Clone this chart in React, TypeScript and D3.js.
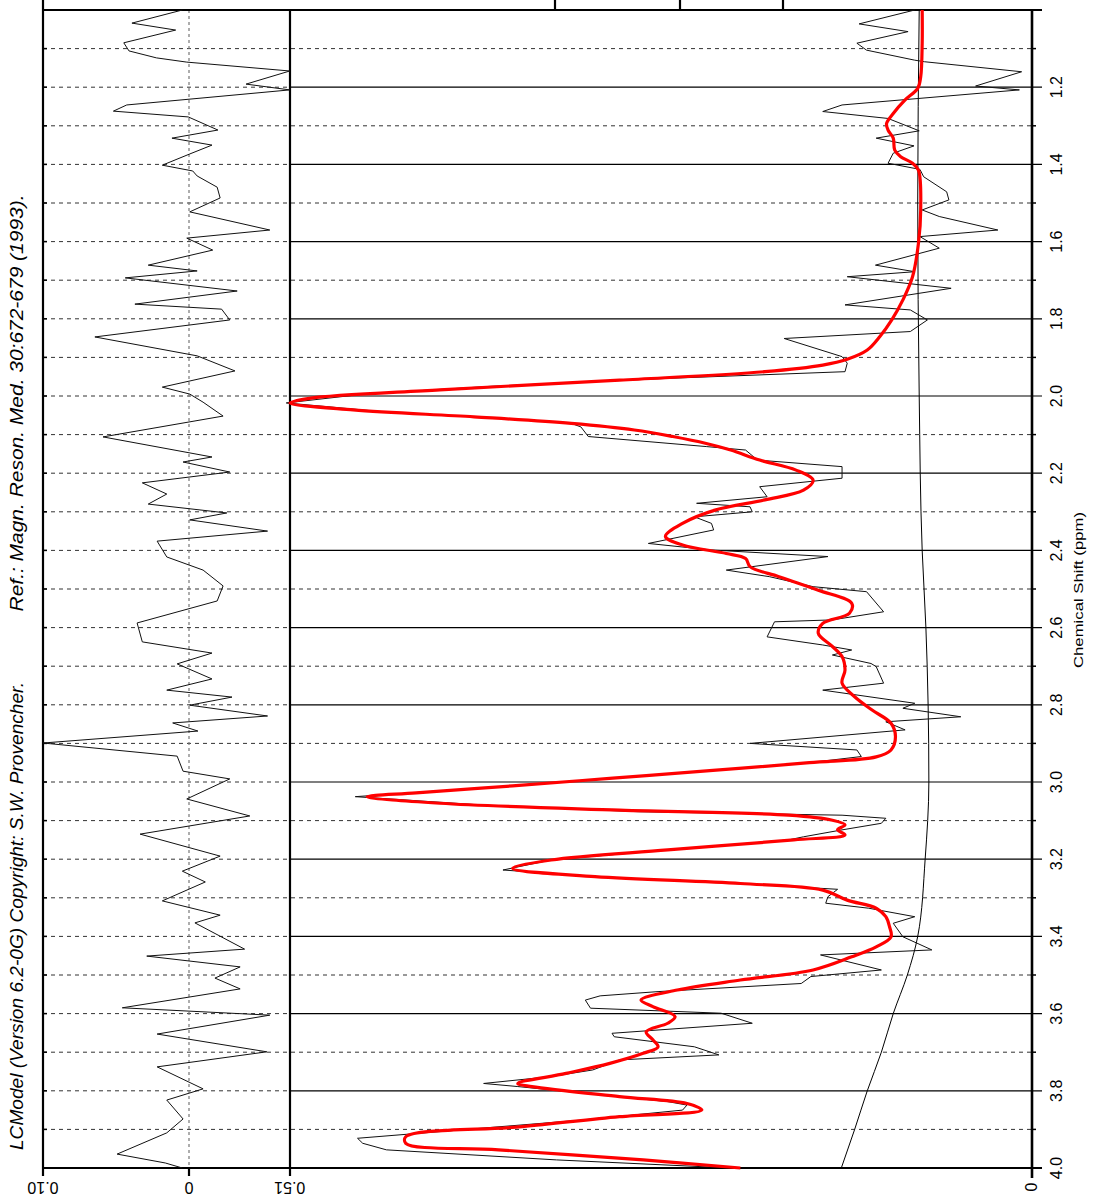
import React from "react";
import * as d3 from "d3";

const W = 1102;
const H = 1198;

// chemical shift ticks (ppm)
const majorTicks = [1.2, 1.4, 1.6, 1.8, 2.0, 2.2, 2.4, 2.6, 2.8, 3.0, 3.2, 3.4, 3.6, 3.8, 4.0];
const minorTicks = [1.1, 1.3, 1.5, 1.7, 1.9, 2.1, 2.3, 2.5, 2.7, 2.9, 3.1, 3.3, 3.5, 3.7, 3.9];
const tickLabels = ["1.2", "1.4", "1.6", "1.8", "2.0", "2.2", "2.4", "2.6", "2.8", "3.0", "3.2", "3.4", "3.6", "3.8", "4.0"];

// residual axis labels (value, label)
const residTickVals = [19.7, 0, -13.6];
const residTickLabels = ["0.10", "0", "0.51"];

// [ppm, intensity] – measured spectrum
const dataPts: [number, number][] = [
  [1.0, 15.8], [1.036, 23.3], [1.056, 16.7], [1.086, 23.6], [1.104, 22.3], [1.13, 15.8], [1.134, 14.5],
  [1.16, 1.4], [1.197, 7.6], [1.207, 1.7], [1.246, 25.6], [1.263, 28.2], [1.281, 19.4], [1.313, 15.2],
  [1.332, 21.0], [1.352, 15.9], [1.371, 18.7], [1.397, 19.4], [1.413, 15.1], [1.432, 14.6], [1.471, 11.5],
  [1.492, 11.2], [1.518, 14.8], [1.535, 12.5], [1.57, 4.6], [1.587, 15.1], [1.617, 12.5], [1.661, 21.1],
  [1.678, 15.8], [1.691, 24.9], [1.721, 10.9], [1.764, 25.2], [1.777, 16.4], [1.803, 14.1], [1.833, 16.4],
  [1.851, 33.4], [1.898, 25.6], [1.915, 24.9], [1.937, 25.2], [1.955, 50], [1.975, 73], [1.995, 90],
  [2.018, 100.5], [2.04, 88], [2.06, 70], [2.071, 62.1], [2.08, 60.8], [2.105, 59.8], [2.131, 43.9],
  [2.14, 38.6], [2.166, 37.0], [2.183, 25.6], [2.213, 25.6], [2.235, 36.7], [2.261, 35.7], [2.278, 45.2],
  [2.287, 38.0], [2.3, 37.7], [2.313, 45.5], [2.33, 43.2], [2.347, 42.9], [2.382, 51.7], [2.399, 43.2],
  [2.416, 27.5], [2.451, 41.2], [2.468, 35.4], [2.494, 29.5], [2.507, 22.3], [2.559, 20.0], [2.58, 26.9],
  [2.585, 34.7], [2.624, 35.7], [2.645, 28.2], [2.658, 24.3], [2.671, 26.9], [2.693, 21.7], [2.701, 21.0],
  [2.744, 20.0], [2.762, 28.2], [2.796, 15.8], [2.809, 17.4], [2.831, 9.6], [2.844, 19.7], [2.865, 17.1],
  [2.9, 38.0], [2.917, 23.6], [2.934, 23.0], [2.95, 30], [2.97, 43], [2.99, 56], [3.01, 70],
  [3.038, 91.2], [3.06, 73.9], [3.077, 53.0], [3.086, 25.6], [3.094, 19.7], [3.107, 20.3], [3.124, 25.6],
  [3.142, 30.8], [3.15, 32.8], [3.176, 49.1], [3.202, 64.8], [3.228, 71.3], [3.245, 58.9], [3.267, 36.0],
  [3.278, 26.2], [3.297, 27.5], [3.314, 27.8], [3.327, 22.0], [3.349, 15.8], [3.366, 18.7], [3.401, 17.4],
  [3.435, 13.5], [3.448, 28.5], [3.487, 20.3], [3.504, 29.8], [3.522, 31.1], [3.543, 50.4], [3.554, 58.2],
  [3.565, 60.2], [3.586, 59.5], [3.599, 41.9], [3.625, 37.7], [3.651, 56.6], [3.66, 56.3], [3.686, 45.5],
  [3.707, 42.2], [3.72, 55.6], [3.746, 59.2], [3.763, 64.8], [3.781, 73.9], [3.789, 69.3], [3.828, 49.1],
  [3.837, 46.5], [3.85, 47.1], [3.876, 60.8], [3.923, 90.9], [3.936, 90.2], [3.953, 87.0], [3.979, 64.1],
  [4.0, 40.6],
];

// [ppm, intensity] – LCModel fit
const fitPts: [number, number][] = [
  [1.0, 14.8], [1.086, 14.8], [1.173, 15.0], [1.203, 15.4], [1.233, 17.1], [1.268, 18.7], [1.294, 19.6],
  [1.311, 19.4], [1.332, 18.7], [1.363, 18.5], [1.38, 17.7], [1.397, 16.1], [1.415, 15.3], [1.518, 15.0],
  [1.604, 15.3], [1.691, 16.1], [1.751, 17.4], [1.803, 18.9], [1.846, 20.5], [1.881, 22.2], [1.905, 24.9],
  [1.92, 28.2], [1.937, 36.0], [1.959, 55.6], [1.984, 79.8], [2.006, 97.4], [2.018, 100], [2.036, 91.5],
  [2.054, 75.2], [2.071, 62.1], [2.088, 53.6], [2.105, 48.4], [2.123, 43.9], [2.14, 40.6], [2.166, 36.7],
  [2.192, 31.8], [2.218, 29.5], [2.244, 30.8], [2.269, 36.0], [2.295, 42.6], [2.33, 47.1], [2.364, 49.4],
  [2.386, 47.1], [2.408, 41.2], [2.421, 38.6], [2.442, 38.0], [2.468, 34.1], [2.503, 28.8], [2.537, 24.3],
  [2.563, 24.6], [2.589, 28.2], [2.615, 28.8], [2.649, 26.9], [2.675, 25.6], [2.71, 25.2], [2.744, 25.6],
  [2.779, 23.9], [2.813, 21.6], [2.848, 19.0], [2.883, 18.4], [2.917, 19.0], [2.935, 21.0], [2.95, 30.0],
  [2.97, 43.0], [2.99, 56.5], [3.01, 70.0], [3.028, 83.0], [3.038, 89.6], [3.055, 79.8], [3.073, 55.6],
  [3.086, 32.8], [3.099, 26.9], [3.111, 25.2], [3.124, 26.2], [3.137, 25.2], [3.15, 32.1], [3.176, 49.1],
  [3.202, 64.8], [3.224, 70.0], [3.245, 58.9], [3.263, 39.3], [3.28, 28.2], [3.306, 24.9], [3.327, 21.0],
  [3.349, 19.7], [3.375, 19.2], [3.401, 19.0], [3.427, 21.0], [3.453, 24.3], [3.487, 29.5], [3.513, 39.3],
  [3.539, 47.8], [3.565, 52.7], [3.582, 51.1], [3.608, 48.1], [3.625, 49.1], [3.647, 52.0], [3.668, 51.1],
  [3.686, 50.4], [3.703, 52.4], [3.729, 56.9], [3.755, 62.8], [3.781, 69.3], [3.789, 67.4], [3.815, 55.6],
  [3.833, 46.5], [3.85, 44.5], [3.867, 55.6], [3.893, 68.7], [3.919, 84.4], [3.936, 84.4], [3.953, 71.9],
  [3.979, 52.4], [4.0, 39.3],
];

// [ppm, intensity] – baseline
const basePts: [number, number][] = [
  [1.0, 15.2], [1.5, 15.4], [2.0, 15.2], [2.4, 14.8], [2.6, 14.3], [2.8, 14.0], [3.0, 13.9],
  [3.2, 14.4], [3.4, 15.4], [3.5, 16.8], [3.6, 18.7], [3.7, 20.3], [3.8, 22.2], [3.9, 23.9], [4.0, 25.7],
];

// [ppm, residual] – data minus fit
const residPts: [number, number][] = [
  [1.0, 0.9], [1.034, 7.7], [1.052, 1.8], [1.085, 8.8], [1.106, 8.1], [1.124, 4.4], [1.135, 0.3],
  [1.158, -13.6], [1.192, -7.7], [1.207, -13.6], [1.246, 8.4], [1.262, 10.2], [1.277, 0.1], [1.311, -3.9],
  [1.332, 2.3], [1.35, -3.1], [1.373, -0.1], [1.402, 3.6], [1.417, -0.5], [1.43, -1.1], [1.459, -3.8],
  [1.487, -4.2], [1.523, -0.1], [1.536, -3.1], [1.57, -10.9], [1.591, 0.3], [1.622, -3.2], [1.661, 5.5],
  [1.676, -1.1], [1.694, 8.6], [1.728, -6.5], [1.762, 7.3], [1.775, -4.4], [1.803, -5.5], [1.847, 12.7],
  [1.896, -1.1], [1.935, -6.2], [1.977, 3.6], [1.995, -0.1], [2.016, -1.9], [2.052, -4.6], [2.106, 11.6],
  [2.158, -3.1], [2.171, 0.8], [2.197, -5.5], [2.225, 6.3], [2.254, 3.0], [2.28, 5.5], [2.303, -5.1],
  [2.321, -0.1], [2.35, -10.6], [2.376, 4.3], [2.417, 3.0], [2.451, -1.9], [2.492, -4.6], [2.531, -3.8],
  [2.588, 7.0], [2.637, 6.3], [2.666, -3.1], [2.694, 1.6], [2.733, -3.1], [2.762, 3.0], [2.78, -5.8],
  [2.801, -0.1], [2.829, -10.6], [2.847, 2.2], [2.868, -1.2], [2.899, 19.7], [2.933, 1.6], [2.972, 0.8],
  [2.992, -5.5], [3.044, 0.3], [3.088, -8.2], [3.135, 6.6], [3.192, -4.2], [3.231, 0.9], [3.259, -2.2],
  [3.308, 3.6], [3.345, -4.2], [3.365, -0.8], [3.433, -7.5], [3.451, 5.7], [3.479, -6.9], [3.508, -3.5],
  [3.536, -6.9], [3.585, 9.0], [3.604, -10.9], [3.653, 4.3], [3.699, -10.5], [3.738, 4.3], [3.795, -1.9],
  [3.824, 3.0], [3.873, 0.8], [3.909, 3.0], [3.964, 9.7], [3.987, 3.2], [4.0, 0.9],
];

const FONT = "'Liberation Sans', Arial, Helvetica, sans-serif";

export default function App() {
  const left = 43;
  const mid = 290;
  const right = 1032;
  const top = 10;
  const bottom = 1168;

  const y = d3.scaleLinear().domain([1.0, 4.0]).range([top, bottom]);
  const xs = d3.scaleLinear().domain([0, 100]).range([right, mid]);
  const xr = d3.scaleLinear().domain([0, 19.7]).range([189, left]);

  const specLine = d3
    .line<[number, number]>()
    .x((d) => xs(d[1]))
    .y((d) => y(d[0]));
  const fitLine = d3
    .line<[number, number]>()
    .x((d) => xs(d[1]))
    .y((d) => y(d[0]))
    .curve(d3.curveCatmullRom.alpha(0.5));
  const baseLine = d3
    .line<[number, number]>()
    .x((d) => xs(d[1]))
    .y((d) => y(d[0]))
    .curve(d3.curveMonotoneY);
  const resLine = d3
    .line<[number, number]>()
    .x((d) => xr(d[1]))
    .y((d) => y(d[0]));

  const gridDash = "4,4";

  return (
    <svg
      width={W}
      height={H}
      viewBox={`0 0 ${W} ${H}`}
      style={{ position: "absolute", left: 0, top: 0, background: "#fff" }}
    >
      <rect x={0} y={0} width={W} height={H} fill="#fff" />

      {/* minor gridlines (dashed across both panels) */}
      {minorTicks.map((t) => (
        <g key={"mi" + t}>
          <line x1={left} x2={right} y1={y(t)} y2={y(t)} stroke="#333" strokeWidth={1} strokeDasharray={gridDash} />
          <line x1={right} x2={right + 4} y1={y(t)} y2={y(t)} stroke="#000" strokeWidth={1.5} />
          <line x1={left} x2={left + 4} y1={y(t)} y2={y(t)} stroke="#000" strokeWidth={1.5} />
        </g>
      ))}
      {/* major gridlines: dashed in residual panel, solid in spectrum panel */}
      {majorTicks.map((t) => (
        <g key={"ma" + t}>
          <line x1={left} x2={mid} y1={y(t)} y2={y(t)} stroke="#333" strokeWidth={1} strokeDasharray={gridDash} />
          <line x1={mid} x2={right + 10} y1={y(t)} y2={y(t)} stroke="#000" strokeWidth={1.2} />
          <line x1={left} x2={left + 4} y1={y(t)} y2={y(t)} stroke="#000" strokeWidth={1.5} />
        </g>
      ))}

      {/* residual zero line */}
      <line x1={xr(0)} x2={xr(0)} y1={top} y2={bottom} stroke="#777" strokeWidth={1.2} strokeDasharray="3,3" />

      {/* frame */}
      <line x1={left} x2={right + 10} y1={top} y2={top} stroke="#000" strokeWidth={2.2} />
      <line x1={left} x2={right + 10} y1={bottom} y2={bottom} stroke="#000" strokeWidth={2.2} />
      <line x1={left} x2={left} y1={0} y2={bottom + 8} stroke="#000" strokeWidth={2.2} />
      <line x1={mid} x2={mid} y1={top} y2={bottom + 8} stroke="#000" strokeWidth={2.2} />
      <line x1={right} x2={right} y1={top} y2={bottom + 10} stroke="#000" strokeWidth={2.6} />
      <line x1={xr(0)} x2={xr(0)} y1={bottom} y2={bottom + 8} stroke="#000" strokeWidth={2.2} />
      {[555, 680, 783].map((xx) => (
        <line key={"st" + xx} x1={xx} x2={xx} y1={0} y2={top} stroke="#000" strokeWidth={2.2} />
      ))}

      {/* spectrum */}
      <path d={baseLine(basePts) || ""} fill="none" stroke="#000" strokeWidth={1} />
      <path d={specLine(dataPts) || ""} fill="none" stroke="#111" strokeWidth={1} strokeLinejoin="round" />
      <path d={fitLine(fitPts) || ""} fill="none" stroke="#ff0000" strokeWidth={3.2} strokeLinejoin="round" />

      {/* residual */}
      <path d={resLine(residPts) || ""} fill="none" stroke="#111" strokeWidth={1} strokeLinejoin="round" />

      {/* ppm tick labels */}
      {majorTicks.map((t, i) => (
        <text
          key={"lb" + t}
          transform={`translate(${right + 30},${y(t)}) rotate(-90)`}
          textAnchor="middle"
          fontFamily={FONT}
          fontSize={16}
          fill="#000"
        >
          {tickLabels[i]}
        </text>
      ))}
      <text
        transform={`translate(${right + 5},${bottom + 19}) rotate(-90)`}
        textAnchor="middle"
        fontFamily={FONT}
        fontSize={16}
        fill="#000"
      >
        0
      </text>
      <text
        transform={`translate(${right + 51},590) rotate(-90)`}
        textAnchor="middle"
        fontFamily={FONT}
        fontSize={13.5}
        fill="#000"
        textLength={156}
        lengthAdjust="spacingAndGlyphs"
      >
        Chemical Shift (ppm)
      </text>

      {/* residual axis labels (upside-down) */}
      {residTickVals.map((v, i) => (
        <text
          key={"rl" + i}
          transform={`translate(${xr(v)},${bottom + 14}) rotate(180)`}
          textAnchor="middle"
          fontFamily={FONT}
          fontSize={16}
          fill="#000"
        >
          {residTickLabels[i]}
        </text>
      ))}

      {/* credits */}
      <text
        transform={`translate(23,916) rotate(-90)`}
        textAnchor="middle"
        fontFamily={FONT}
        fontStyle="italic"
        fontSize={19}
        fill="#000"
        textLength={468}
        lengthAdjust="spacingAndGlyphs"
      >
        LCModel (Version 6.2-0G) Copyright: S.W. Provencher.
      </text>
      <text
        transform={`translate(23,403) rotate(-90)`}
        textAnchor="middle"
        fontFamily={FONT}
        fontStyle="italic"
        fontSize={19}
        fill="#000"
        textLength={417}
        lengthAdjust="spacingAndGlyphs"
      >
        Ref.: Magn. Reson. Med. 30:672-679 (1993).
      </text>
    </svg>
  );
}
